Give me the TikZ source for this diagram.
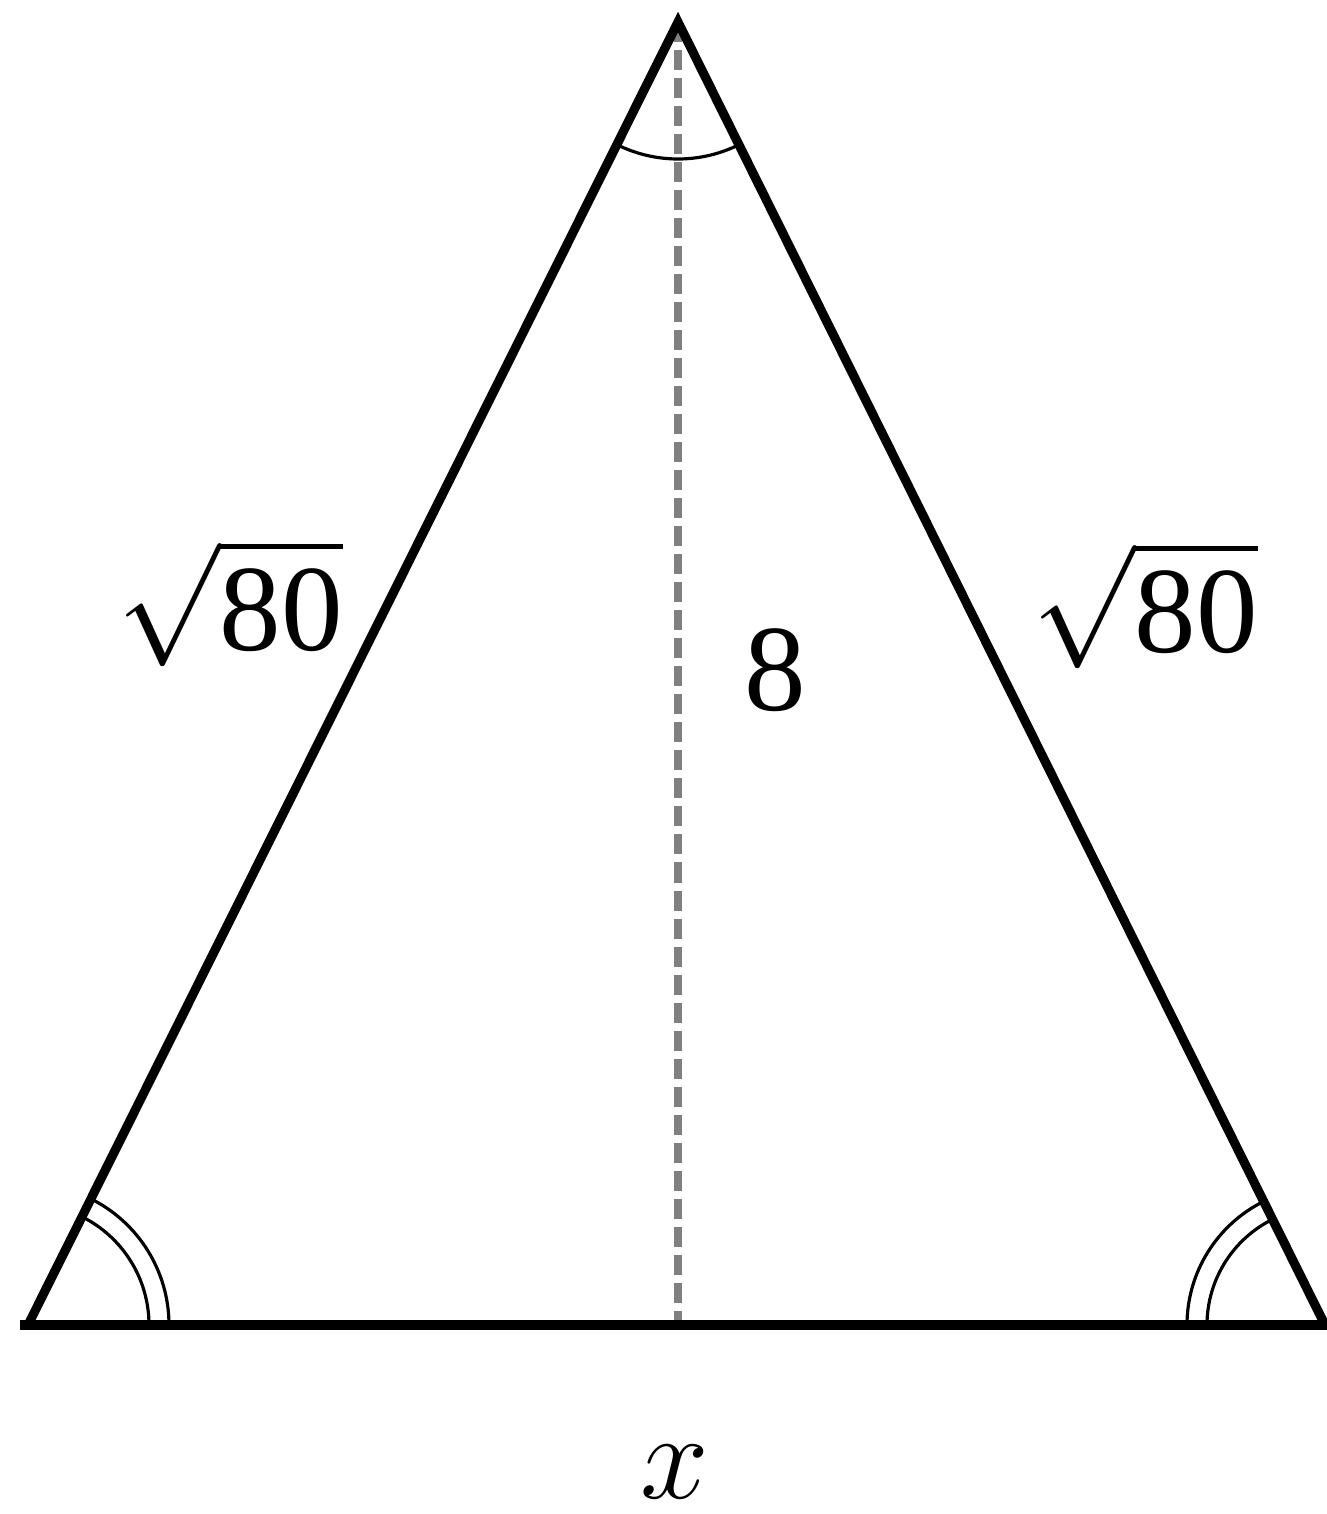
\RequirePackage{fix-cm}
\documentclass[tikz,border=0pt]{standalone}
\usepackage{amsmath}
\usepackage{fontspec}
\setmainfont{Liberation Serif}
\begin{document}
\begin{tikzpicture}[x=0.01cm,y=-0.01cm,
  side/.style={line width=2.6pt,black,line join=miter},
  altline/.style={line width=2pt,gray,dash pattern=on 0.2cm off 0.08cm},
  anglemark/.style={line width=0.9pt,black},
  lbl/.style={inner sep=0pt,font=\fontsize{35}{40}\selectfont}]
\useasboundingbox (0,0) rectangle (1327,1514);
\coordinate (A) at (678,22);
\coordinate (B) at (28,1325);
\coordinate (C) at (1325,1325);
\coordinate (D) at (678,1325);
\coordinate (BL) at (20,1325);
\coordinate (CR) at (1327,1325);
% altitude
\draw[altline] (A) -- (D);
% triangle
\draw[side] (BL) -- (CR);
\draw[side] (B) -- (A) -- (C);
% angle marks
\draw[anglemark] (A) ++(116.5:137) arc[start angle=116.5,end angle=63.5,radius=137];
\draw[anglemark] (B) ++(0:121) arc[start angle=0,end angle=-63.5,radius=121];
\draw[anglemark] (B) ++(0:141) arc[start angle=0,end angle=-63.5,radius=141];
\draw[anglemark] (C) ++(180:118) arc[start angle=180,end angle=243.5,radius=118];
\draw[anglemark] (C) ++(180:138) arc[start angle=180,end angle=243.5,radius=138];
% labels
\node[lbl] (l1) at (230,603) {$\sqrt{\text{80}}$};
\node[lbl] (l2) at (1145,605) {$\sqrt{\text{80}}$};
\node[lbl] (h) at (775,670) {8};
\node[lbl] (b) at (675,1472) {$x$};
\end{tikzpicture}
\end{document}
